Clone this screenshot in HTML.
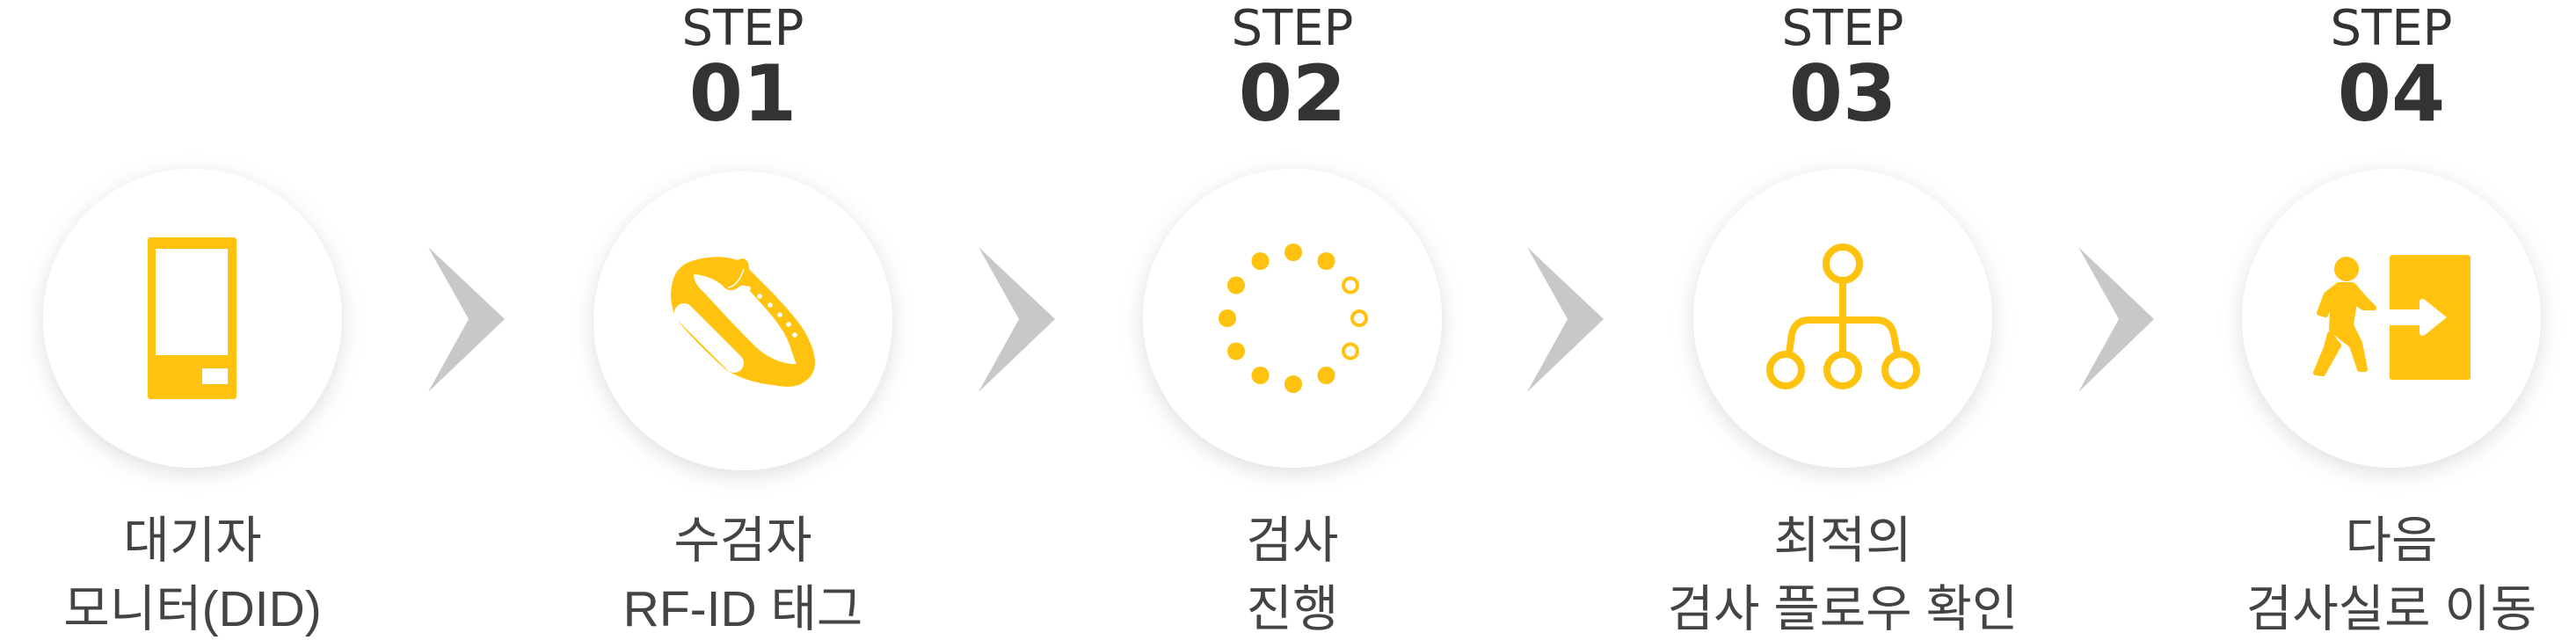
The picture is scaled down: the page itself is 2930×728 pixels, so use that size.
<!DOCTYPE html>
<html><head><meta charset="utf-8"><style>
html,body{margin:0;padding:0;background:#fff;}
svg{display:block;}
.step{font-family:"DejaVu Sans","Liberation Sans",sans-serif;font-size:56px;fill:#333;text-anchor:middle;}
.num{font-family:"DejaVu Sans","Liberation Sans",sans-serif;font-weight:bold;font-size:88px;fill:#333;text-anchor:middle;}
.lab{font-family:"Liberation Sans","Noto Sans CJK KR",sans-serif;font-size:57px;fill:#444;text-anchor:middle;}
</style></head><body>
<svg width="2930" height="728" viewBox="0 0 2930 728" xmlns="http://www.w3.org/2000/svg">
<defs>
<filter id="sh" x="-30%" y="-30%" width="160%" height="160%">
<feDropShadow dx="0" dy="6" stdDeviation="12" flood-color="#000" flood-opacity="0.13"/>
</filter>
</defs>
<g filter="url(#sh)" fill="#fff">
<circle cx="219" cy="362" r="170"/>
<circle cx="845" cy="365" r="170"/>
<circle cx="1470" cy="362" r="170"/>
<circle cx="2096" cy="362" r="170"/>
<circle cx="2720" cy="362" r="170"/>
</g>
<g fill="#c8c8c8">
<polygon points="487,281 574,363 487,446 533,363"/>
<polygon points="1113,281 1200,363 1113,446 1159,363"/>
<polygon points="1737,281 1824,363 1737,446 1783,363"/>
<polygon points="2364,281 2450,363 2364,446 2410,363"/>
</g>
<text class="step" x="845" y="51">STEP</text><text class="num" x="845" y="137">01</text>
<text class="step" x="1470" y="51">STEP</text><text class="num" x="1470" y="137">02</text>
<text class="step" x="2096" y="51">STEP</text><text class="num" x="2096" y="137">03</text>
<text class="step" x="2720" y="51">STEP</text><text class="num" x="2720" y="137">04</text>
<text class="lab" x="219" y="634">대기자</text><text class="lab" x="219" y="712">모니터(DID)</text>
<text class="lab" x="845" y="634">수검자</text><text class="lab" x="845" y="712">RF-ID 태그</text>
<text class="lab" x="1470" y="634">검사</text><text class="lab" x="1470" y="712">진행</text>
<text class="lab" x="2096" y="634">최적의</text><text class="lab" x="2096" y="712">검사 플로우 확인</text>
<text class="lab" x="2720" y="634">다음</text><text class="lab" x="2720" y="712">검사실로 이동</text>
<rect x="168" y="270" width="101" height="184" rx="3" fill="#FFC20E"/>
<rect x="177" y="283" width="82" height="121" fill="#fff"/>
<rect x="230" y="419" width="29" height="18" fill="#fff"/>
<g transform="translate(740,270)">
<path d="M50,26 C70,20 90,22 98,26 L104,24 C110,24 112,30 112,36 C125,50 150,72 172,102 C186,124 192,145 182,158 C172,170 158,172 140,168 C120,166 100,160 85,150 C65,132 45,112 32,96 C22,82 20,60 28,42 C34,32 42,28 50,26 Z" fill="#FFC20E"/>
<path d="M49,42 C62,43 75,48 83,56 C86,60 92,62 98,58 C104,54 108,52 112,60 C130,80 150,100 158,122 C162,134 164,140 166,144 C150,145 130,136 115,120 C95,100 75,78 60,62 C52,55 49,48 49,42 Z" fill="#fff"/>
<line x1="38" y1="86" x2="95" y2="143" stroke="#fff" stroke-width="22" stroke-linecap="round"/>
<path d="M88,57 C96,56 102,48 106,36" stroke="#fff" stroke-width="1.5" fill="none"/>
<g fill="#fff">
<circle cx="111" cy="58" r="2.8"/><circle cx="124" cy="67" r="2.8"/><circle cx="136" cy="77" r="2.8"/>
<circle cx="147" cy="88" r="2.8"/><circle cx="157" cy="99" r="2.8"/><circle cx="164" cy="111" r="2.8"/>
</g>
</g>
<g transform="translate(1471,362)" fill="#FFC20E">
<circle cx="0" cy="-75" r="10"/>
<circle cx="37.5" cy="-65" r="10"/>
<circle cx="65" cy="-37.5" r="8" fill="#fff" stroke="#FFC20E" stroke-width="4"/>
<circle cx="75" cy="0" r="8" fill="#fff" stroke="#FFC20E" stroke-width="4"/>
<circle cx="65" cy="37.5" r="8" fill="#fff" stroke="#FFC20E" stroke-width="4"/>
<circle cx="37.5" cy="65" r="10"/>
<circle cx="0" cy="75" r="10"/>
<circle cx="-37.5" cy="65" r="10"/>
<circle cx="-65" cy="37.5" r="10"/>
<circle cx="-75" cy="0" r="10"/>
<circle cx="-65" cy="-37.5" r="10"/>
<circle cx="-37.5" cy="-65" r="10"/>
</g>
<g fill="none" stroke="#FFC20E" stroke-width="8">
<circle cx="2096" cy="300" r="19"/>
<line x1="2096" y1="319" x2="2096" y2="402"/>
<path d="M2035,402 L2038,380 Q2042,364 2058,364 L2134,364 Q2150,364 2154,380 L2158,402"/>
<circle cx="2031" cy="421" r="18"/>
<circle cx="2096" cy="421" r="18"/>
<circle cx="2162" cy="421" r="18"/>
</g>
<rect x="2718" y="290" width="92" height="142" rx="3" fill="#FFC20E"/>
<path d="M2718,352 L2752,352 L2752,343 Q2753,338 2758,341 L2783,361 L2758,381 Q2753,384 2752,378 L2752,370 L2718,370 Z" fill="#fff"/>
<g fill="#FFC20E" stroke="#FFC20E" stroke-linecap="round" stroke-linejoin="round">
<circle cx="2669" cy="306" r="14" stroke="none"/>
<path d="M2660,324 L2676,324 L2690,340 L2700,350 L2688,350 L2678,343 L2674,370 L2684,390 L2690,420 L2684,420 L2675,393 L2652,375 L2654,340 L2645,358 L2638,356 L2646,335 Z" stroke-width="6"/>
<path d="M2650,380 L2660,393 L2642,425 L2634,424 L2646,395 Z" stroke-width="6"/>
</g>
</svg>
</body></html>
